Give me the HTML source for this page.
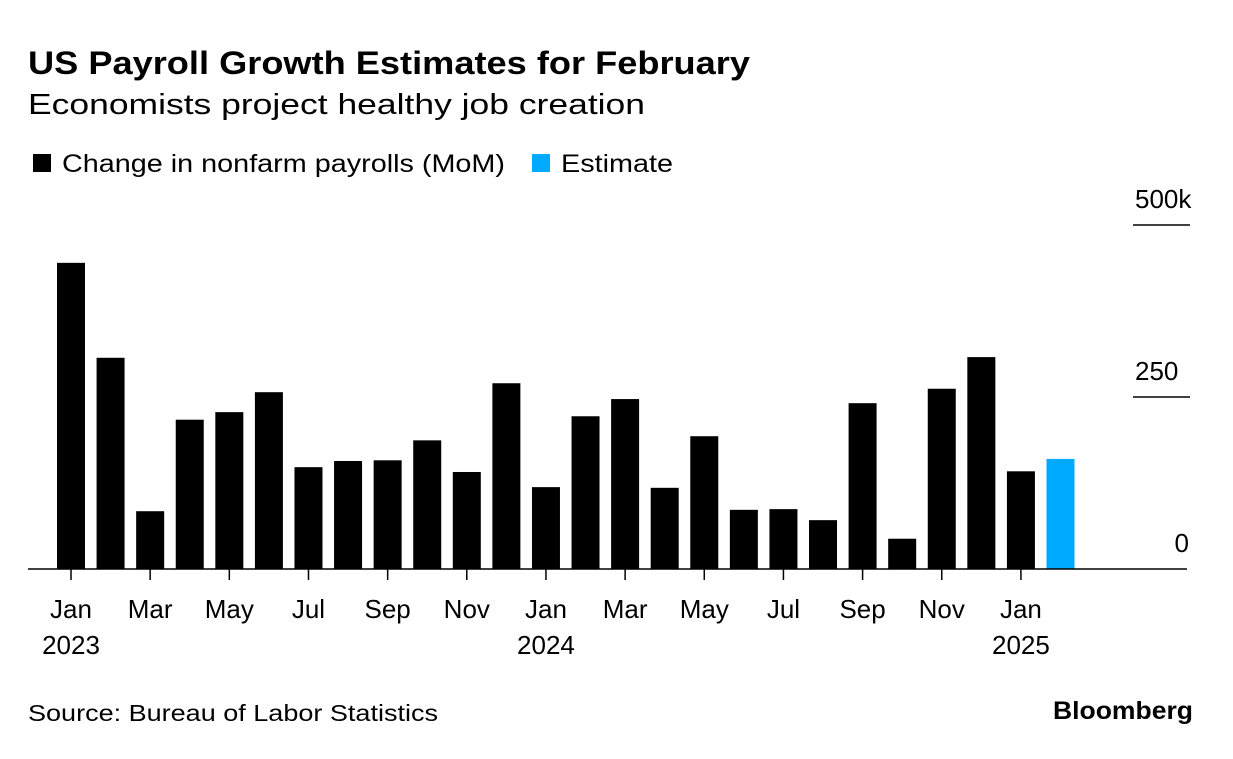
<!DOCTYPE html>
<html><head><meta charset="utf-8"><style>
body{margin:0;background:#fff;font-family:"Liberation Sans",Arial,sans-serif;}
svg text{font-family:"Liberation Sans",Arial,sans-serif;}
</style></head><body>
<svg width="1233" height="754">
<text x="28" y="74" font-size="32" font-weight="bold" fill="#000" textLength="722" lengthAdjust="spacingAndGlyphs">US Payroll Growth Estimates for February</text>
<text x="28" y="114" font-size="29" fill="#000" textLength="617" lengthAdjust="spacingAndGlyphs">Economists project healthy job creation</text>
<g>
<rect x="33" y="154" width="18" height="18" fill="#000"/>
<text x="62" y="172" font-size="25" textLength="443" lengthAdjust="spacingAndGlyphs">Change in nonfarm payrolls (MoM)</text>
<rect x="532" y="154" width="18" height="18" fill="#00aaff"/>
<text x="561" y="172" font-size="25" textLength="112" lengthAdjust="spacingAndGlyphs">Estimate</text>
</g>
<g id="plot"></g>
<text x="28" y="721" font-size="23" textLength="410" lengthAdjust="spacingAndGlyphs">Source: Bureau of Labor Statistics</text>
<text x="1193" y="719" font-size="25" font-weight="bold" text-anchor="end" textLength="140" lengthAdjust="spacingAndGlyphs">Bloomberg</text>
</svg>
<script>
const months = ["Jan","Feb","Mar","Apr","May","Jun","Jul","Aug","Sep","Oct","Nov","Dec","Jan","Feb","Mar","Apr","May","Jun","Jul","Aug","Sep","Oct","Nov","Dec","Jan","Feb"];
const years = ["2023","","","","","","","","","","","","2024","","","","","","","","","","","","2025",""];
const values = [445,307,84,217,228,257,148,157,158,187,141,270,119,222,247,118,193,86,87,71,241,44,262,308,142,160];
const isEstimate = [0,0,0,0,0,0,0,0,0,0,0,0,0,0,0,0,0,0,0,0,0,0,0,0,0,1];
const yTicks = [0,250,500];
const yTickLabels = ["0","250","500k"];
const NS="http://www.w3.org/2000/svg";
const g=document.getElementById('plot');
const x0=71, step=39.58, bw=28, y0=569, k=172/250;
const xs=i=>x0+i*step, ys=v=>y0-v*k;
function mk(t,a){const e=document.createElementNS(NS,t);for(const n in a)e.setAttribute(n,a[n]);g.appendChild(e);return e;}
values.forEach((v,i)=>{
 const r=mk('rect',{x:xs(i)-bw/2,y:ys(v),width:bw,height:y0-ys(v),fill:isEstimate[i]?'#00aaff':'#000'});
 
 
 if(i%2===0){
  const t=mk('line',{x1:xs(i),x2:xs(i),y1:y0,y2:y0+11,stroke:'#000','stroke-width':1.5});
  
  
  const l=mk('text',{x:xs(i),y:618,'font-size':26,'text-anchor':'middle'});
  l.textContent=months[i];
  
  
 }
 if(years[i]){
  const yl=mk('text',{x:xs(i),y:654,'font-size':26,'text-anchor':'middle'});
  yl.textContent=years[i];
  
  
 }
});
yTicks.forEach((v,i)=>{
 if(v>0){
  const ln=mk('line',{x1:1133,x2:1190,y1:ys(v),y2:ys(v),stroke:'#000','stroke-width':1.5});
  
  
 }
 const t=mk('text',v>0?{x:1135,y:ys(v)-17,'font-size':26}:{x:1189,y:ys(v)-17,'font-size':26,'text-anchor':'end'});
 t.textContent=yTickLabels[i];
 
 
});
const ax=mk('line',{x1:28,x2:1187,y1:y0,y2:y0,stroke:'#000','stroke-width':1.5});


</script>
</body></html>
